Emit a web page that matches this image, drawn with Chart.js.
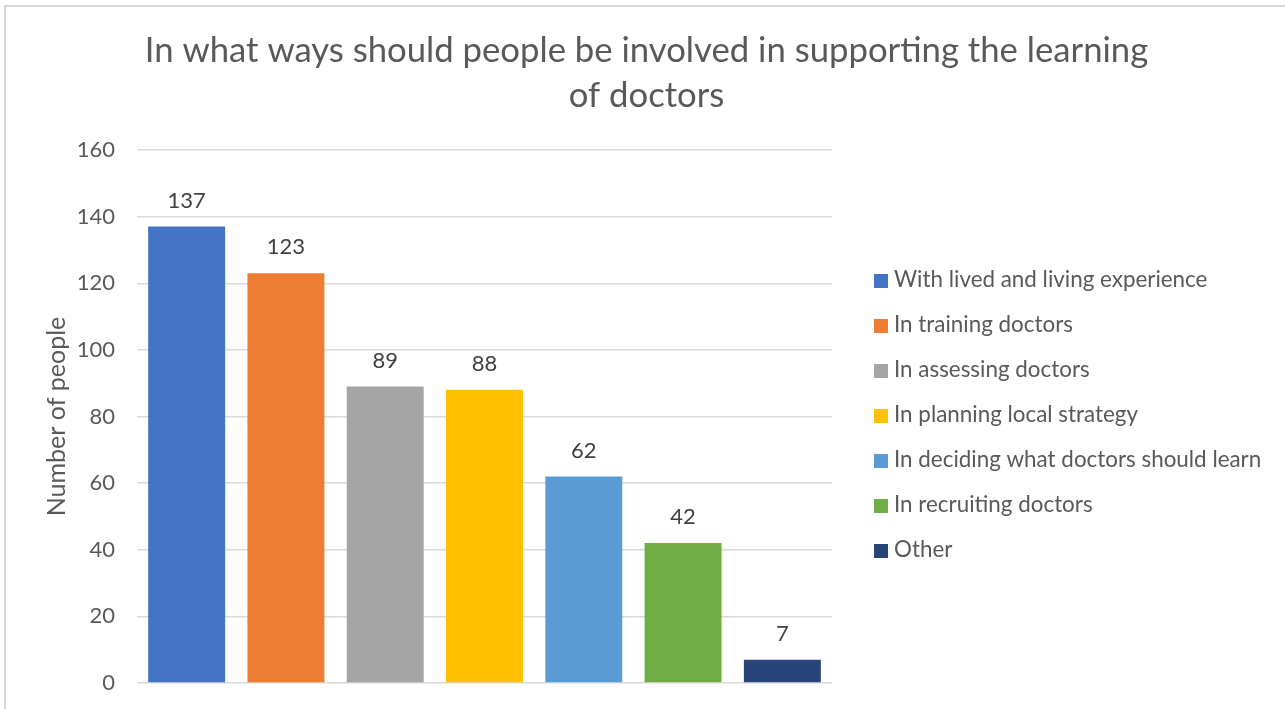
<!DOCTYPE html>
<html><head><meta charset="utf-8">
<script src="https://cdn.jsdelivr.net/npm/chart.js@4.4.0/dist/chart.umd.min.js"></script>
<style>
html,body{margin:0;padding:0;background:#fff;}
#wrap{position:relative;width:1285px;height:709px;overflow:hidden;}
#frame{position:absolute;left:4px;top:5px;right:-5px;bottom:-5px;border-top:2px solid #d9d9d9;border-left:2px solid #d9d9d9;}
canvas{position:absolute;left:0;top:0;}
</style></head><body>
<div id="wrap"><div id="frame"></div><canvas id="c" width="1285" height="709"></canvas></div>
<script>
const titleLines = ["In what ways should people be involved in supporting the learning", "of doctors"];
const categories = ["With lived and living experience", "In training doctors", "In assessing doctors", "In planning local strategy", "In deciding what doctors should learn", "In recruiting doctors", "Other"];
const values = [137, 123, 89, 88, 62, 42, 7];
const colors = ["#4472C4", "#ED7D31", "#A5A5A5", "#FFC000", "#5B9BD5", "#70AD47", "#264478"];
const yMin = 0, yMax = 160, yStep = 20;
const axisTitle = "Number of people";

const FONT = "Lato, 'Open Sans', sans-serif";
const TXT = "#595959";

const valueLabels = {
  id: 'valueLabels',
  afterDatasetsDraw(chart) {
    const ctx = chart.ctx;
    const meta = chart.getDatasetMeta(0);
    ctx.save();
    ctx.font = "22px " + FONT;
    ctx.fillStyle = "#404040";
    ctx.textAlign = "center";
    ctx.textBaseline = "middle";
    meta.data.forEach((bar, i) => {
      ctx.fillText(String(chart.data.datasets[0].data[i]), bar.x, bar.y - 26);
    });
    ctx.restore();
  }
};

// Legend drawn next to the plot area from the chart's own labels and colours
const sideLegend = {
  id: 'sideLegend',
  afterDraw(chart) {
    const ctx = chart.ctx;
    const area = chart.chartArea;
    const labels = chart.data.labels;
    const bg = chart.data.datasets[0].backgroundColor;
    const gap = 45;
    const x0 = area.right + 42;
    const yc = (area.top + area.bottom) / 2 - 1.5;
    ctx.save();
    ctx.font = "22.4px " + FONT;
    ctx.textAlign = "left";
    ctx.textBaseline = "middle";
    labels.forEach((lab, i) => {
      const y = yc + (i - (labels.length - 1) / 2) * gap;
      ctx.fillStyle = bg[i];
      ctx.fillRect(x0, y - 6, 14, 14);
      ctx.fillStyle = TXT;
      ctx.fillText(lab, x0 + 20, y);
    });
    ctx.restore();
  }
};

new Chart(document.getElementById('c'), {
  type: 'bar',
  data: {
    labels: categories,
    datasets: [{
      data: values,
      backgroundColor: colors,
      borderWidth: 0,
      barPercentage: 0.775,
      categoryPercentage: 1
    }]
  },
  options: {
    responsive: false,
    animation: false,
    layout: { padding: { left: 8, right: 0, top: 0, bottom: 26 } },
    plugins: {
      title: {
        display: true,
        text: titleLines,
        color: TXT,
        font: { family: FONT, size: 34.7, weight: 'normal', lineHeight: 45/34.7 },
        padding: { top: 28, bottom: 32 }
      },
      legend: { display: false },
      tooltip: { enabled: false }
    },
    scales: {
      x: {
        display: false,
        offset: true
      },
      y: {
        min: yMin,
        max: yMax,
        afterFit: s => { s.width = 129; s.paddingTop = 0; s.paddingBottom = 0; },
        ticks: { stepSize: yStep, color: TXT, font: { family: FONT, size: 22 }, padding: 22 },
        grid: { color: "#d9d9d9", lineWidth: 1.5, drawTicks: false },
        border: { display: false },
        title: {
          display: true,
          text: axisTitle,
          color: TXT,
          font: { family: FONT, size: 25 },
          padding: { top: 34, bottom: 0 }
        }
      },
      legendSpace: {
        type: 'linear',
        position: 'right',
        display: true,
        afterFit: s => { s.width = 453; },
        ticks: { display: false },
        grid: { display: false, drawOnChartArea: false },
        border: { display: false }
      }
    }
  },
  plugins: [valueLabels, sideLegend]
});
</script>
</body></html>
